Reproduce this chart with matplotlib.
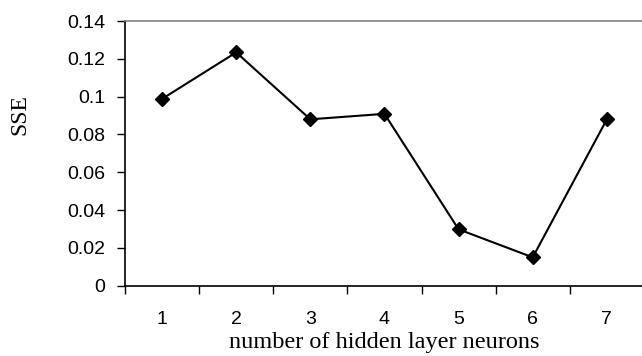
import matplotlib
matplotlib.use("Agg")
import matplotlib.pyplot as plt
import numpy as np

neurons = [1, 2, 3, 4, 5, 6, 7]
sse = [0.0988, 0.1234, 0.0880, 0.0909, 0.0298, 0.0150, 0.0880]
yticks = [0, 0.02, 0.04, 0.06, 0.08, 0.1, 0.12, 0.14]
ytick_labels = ["0", "0.02", "0.04", "0.06", "0.08", "0.1", "0.12", "0.14"]

fig = plt.figure(figsize=(6.42, 3.56), dpi=100)
ax = fig.add_axes([0.1947, 0.1975, 0.8083, 0.7435])

ax.plot(neurons, sse, color="black", lw=1.5, marker="D", ms=6.8,
        markerfacecolor="black", markeredgecolor="black", clip_on=False)

ax.set_xlim(0.5, 7.5)
ax.set_ylim(0, 0.14)

# category labels at centres, tick marks at the category boundaries
ax.set_xticks(neurons)
ax.set_xticklabels([str(n) for n in neurons], fontfamily="Liberation Sans", fontsize=14)
ax.tick_params(axis="x", which="major", length=0, pad=18)
ax.set_xticks(np.arange(0.5, 8.0, 1.0), minor=True)
ax.tick_params(axis="x", which="minor", length=6, width=1, direction="out")

ax.set_yticks(yticks)
ax.set_yticklabels(ytick_labels, fontfamily="Liberation Sans", fontsize=14)
ax.tick_params(axis="y", length=6, width=1, direction="out", pad=8)

for side in ["left", "bottom"]:
    ax.spines[side].set_color("black")
    ax.spines[side].set_linewidth(1.2)
ax.spines["top"].set_color("#808080")
ax.spines["top"].set_linewidth(1.2)
ax.spines["right"].set_visible(False)

ax.set_xlabel("number of hidden layer neurons", fontfamily="Liberation Serif",
              fontsize=17.5)
ax.xaxis.set_label_coords(0.5, -0.175)
ax.set_ylabel("SSE", fontfamily="Liberation Serif", fontsize=17)
ax.yaxis.set_label_coords(-0.183, 0.645)

fig.savefig("out.png", dpi=100)
